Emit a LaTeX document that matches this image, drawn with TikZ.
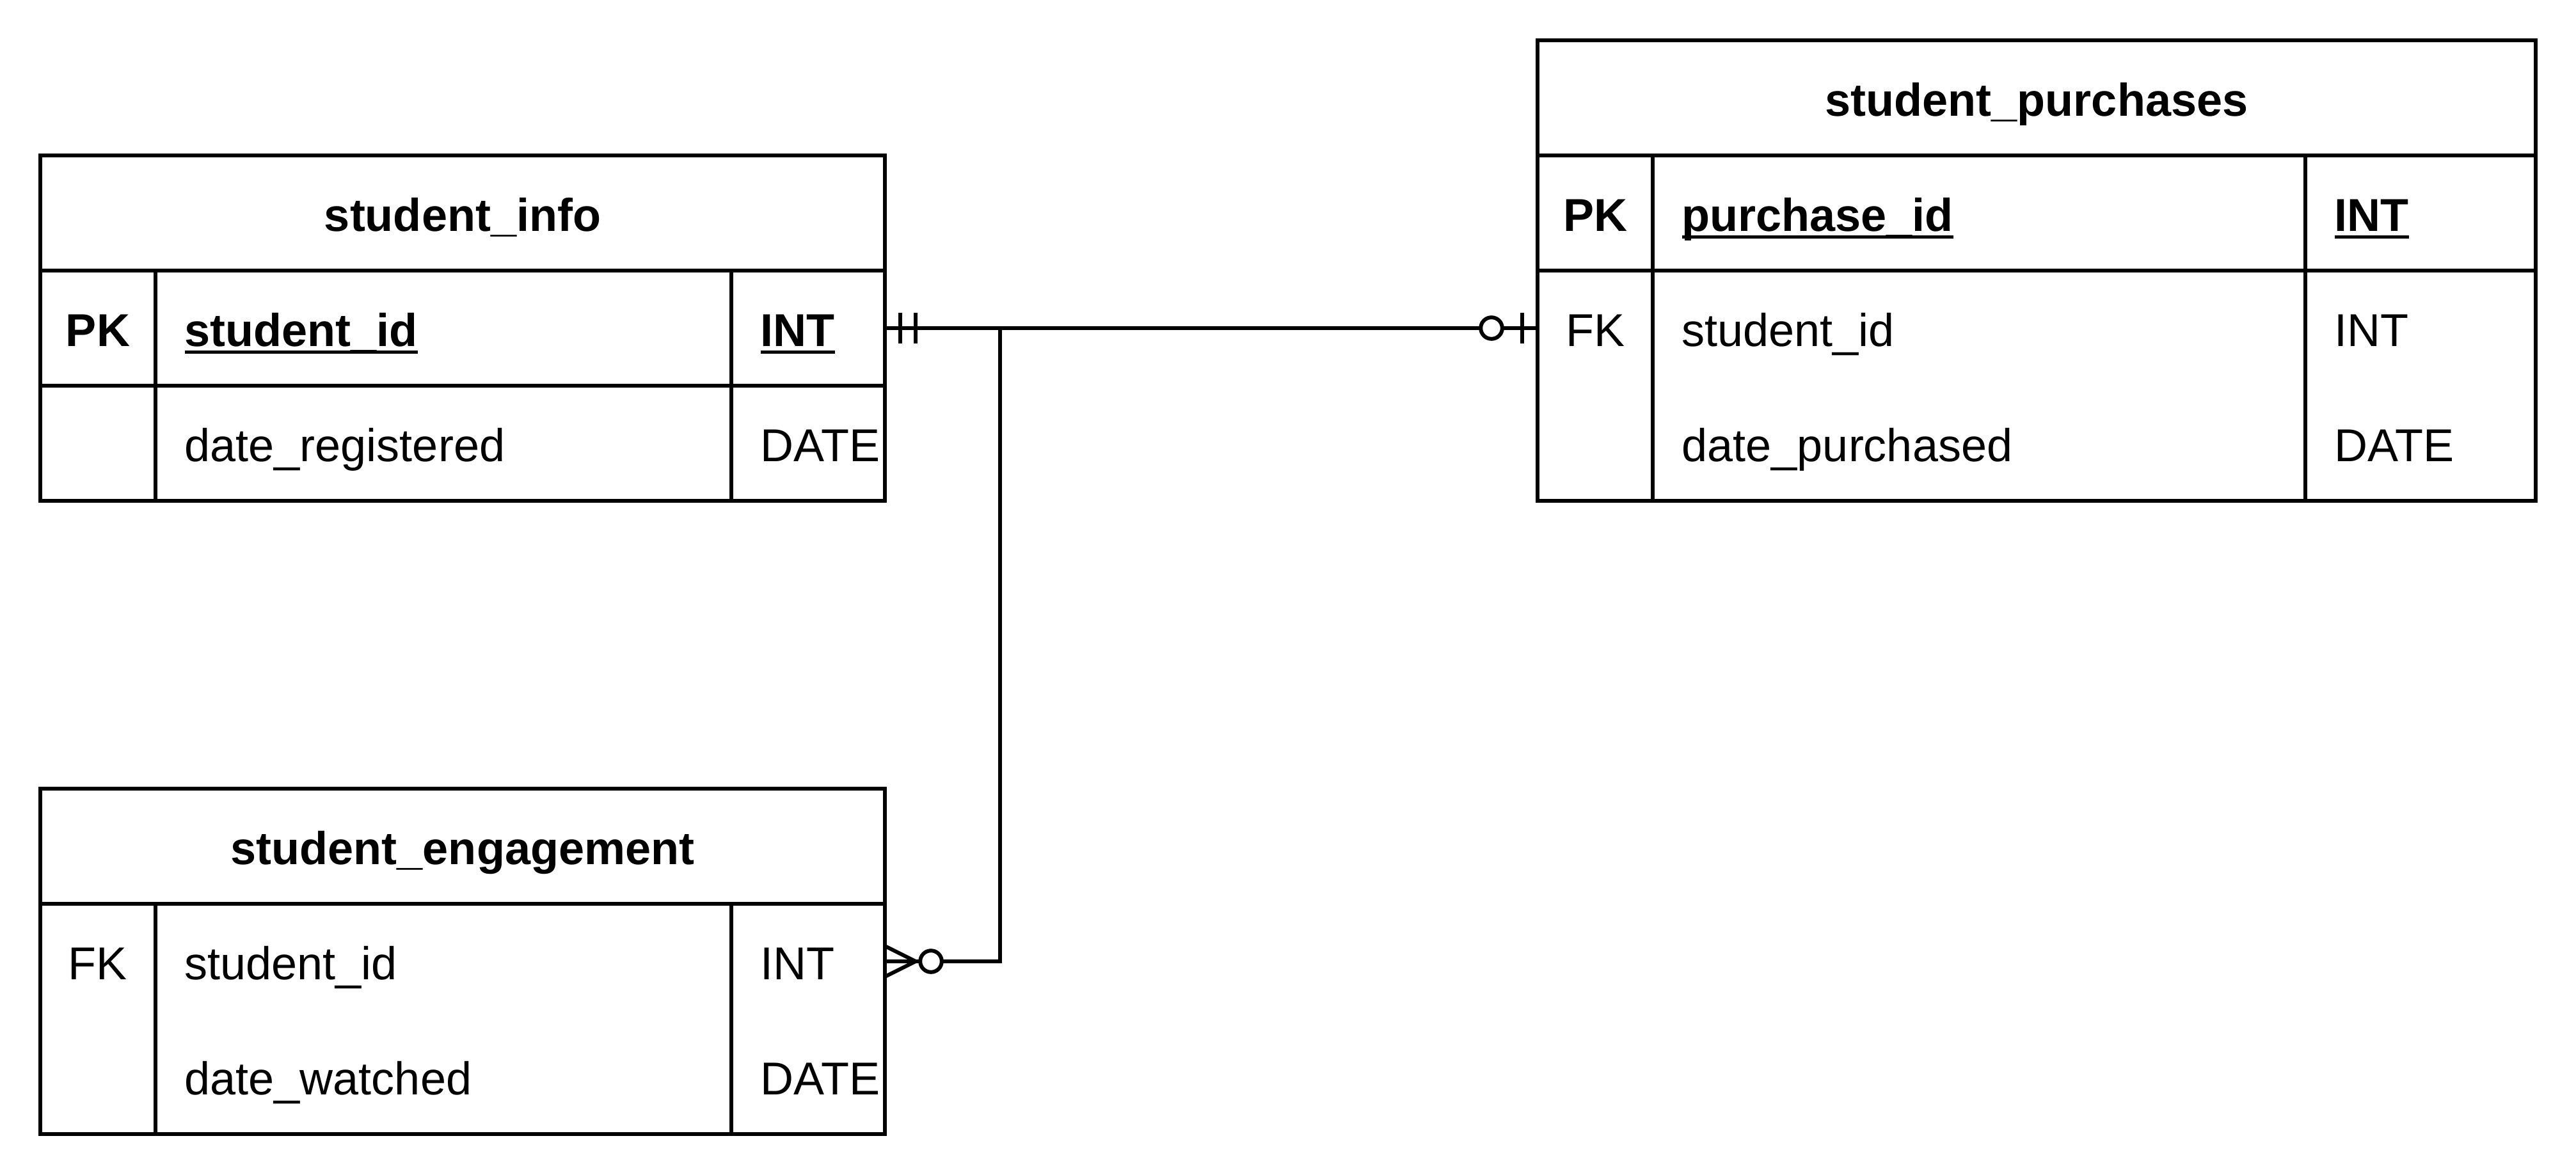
\documentclass[tikz,border=0pt]{standalone}
\usepackage{fontspec}
\setmainfont{Liberation Sans}
\usetikzlibrary{calc}
\newcommand{\myul}[1]{\setbox0\hbox{#1}\rlap{\rule[-0.17em]{\wd0}{0.075em}}\box0}
\newcommand{\erfont}{\fontsize{20.49pt}{24.6pt}\selectfont}
\begin{document}
\begin{tikzpicture}[x=0.06cm,y=-0.06cm,
  tline/.style={line width=1.7pt},
  ttl/.style={font=\erfont\bfseries, anchor=base, inner sep=0pt},
  cell/.style={font=\erfont, anchor=base west, inner sep=0pt},
  keycell/.style={font=\erfont, anchor=base, inner sep=0pt}]
\useasboundingbox (0,0) rectangle (671,306);
% ---------- student_info ----------
\draw[tline] (10.5,40.5) rectangle (230.5,130.5);
\draw[tline] (10.5,70.5) -- (230.5,70.5);
\draw[tline] (10.5,100.5) -- (230.5,100.5);
\draw[tline] (40.5,70.5) -- (40.5,130.5);
\draw[tline] (190.5,70.5) -- (190.5,130.5);
\node[ttl] (infoT) at (120.5,60.2) {student\_info};
\node[keycell,font=\erfont\bfseries] (infoK1) at (25.5,90.2) {PK};
\node[cell,font=\erfont\bfseries] (infoN1) at (48,90.2) {\myul{student\_id}};
\node[cell,font=\erfont\bfseries] (infoY1) at (198,90.2) {\myul{INT}};
\node[cell] (infoN2) at (48,120.2) {date\_registered};
\node[cell] (infoY2) at (198,120.2) {DATE};
% ---------- student_engagement ----------
\draw[tline] (10.5,205.5) rectangle (230.5,295.5);
\draw[tline] (10.5,235.5) -- (230.5,235.5);
\draw[tline] (40.5,235.5) -- (40.5,295.5);
\draw[tline] (190.5,235.5) -- (190.5,295.5);
\node[ttl] (engT) at (120.5,225.2) {student\_engagement};
\node[keycell] (engK1) at (25.5,255.2) {FK};
\node[cell] (engN1) at (48,255.2) {student\_id};
\node[cell] (engY1) at (198,255.2) {INT};
\node[cell] (engN2) at (48,285.2) {date\_watched};
\node[cell] (engY2) at (198,285.2) {DATE};
% ---------- student_purchases ----------
\draw[tline] (400.5,10.5) rectangle (660.5,130.5);
\draw[tline] (400.5,40.5) -- (660.5,40.5);
\draw[tline] (400.5,70.5) -- (660.5,70.5);
\draw[tline] (430.5,40.5) -- (430.5,130.5);
\draw[tline] (600.5,40.5) -- (600.5,130.5);
\node[ttl] (purT) at (530.5,30.2) {student\_purchases};
\node[keycell,font=\erfont\bfseries] (purK1) at (415.5,60.2) {PK};
\node[cell,font=\erfont\bfseries] (purN1) at (438,60.2) {\myul{purchase\_id}};
\node[cell,font=\erfont\bfseries] (purY1) at (608,60.2) {\myul{INT}};
\node[keycell] (purK2) at (415.5,90.2) {FK};
\node[cell] (purN2) at (438,90.2) {student\_id};
\node[cell] (purY2) at (608,90.2) {INT};
\node[cell] (purN3) at (438,120.2) {date\_purchased};
\node[cell] (purY3) at (608,120.2) {DATE};
% ---------- connectors ----------
\coordinate (infoSid) at (230.5,85.5);
\coordinate (purSid) at (400.5,85.5);
\coordinate (engSid) at (230.5,250.5);
\coordinate (jn) at (260.5,85.5);
\draw[tline] (infoSid) -- (purSid);
\draw[tline] (engSid) -| (jn);
% mandatory one (student_info)
\draw[tline] ($(infoSid)+(4,-4)$) -- ($(infoSid)+(4,4)$);
\draw[tline] ($(infoSid)+(8,-4)$) -- ($(infoSid)+(8,4)$);
% zero or one (student_purchases)
\draw[tline] ($(purSid)+(-4,-4)$) -- ($(purSid)+(-4,4)$);
\draw[tline,fill=white] ($(purSid)+(-12,0)$) circle[radius=0.168cm];
% zero or many (student_engagement)
\draw[tline] ($(engSid)+(0,-4)$) -- ($(engSid)+(8,0)$) -- ($(engSid)+(0,4)$);
\draw[tline,fill=white] ($(engSid)+(12,0)$) circle[radius=0.168cm];
\end{tikzpicture}
\end{document}
